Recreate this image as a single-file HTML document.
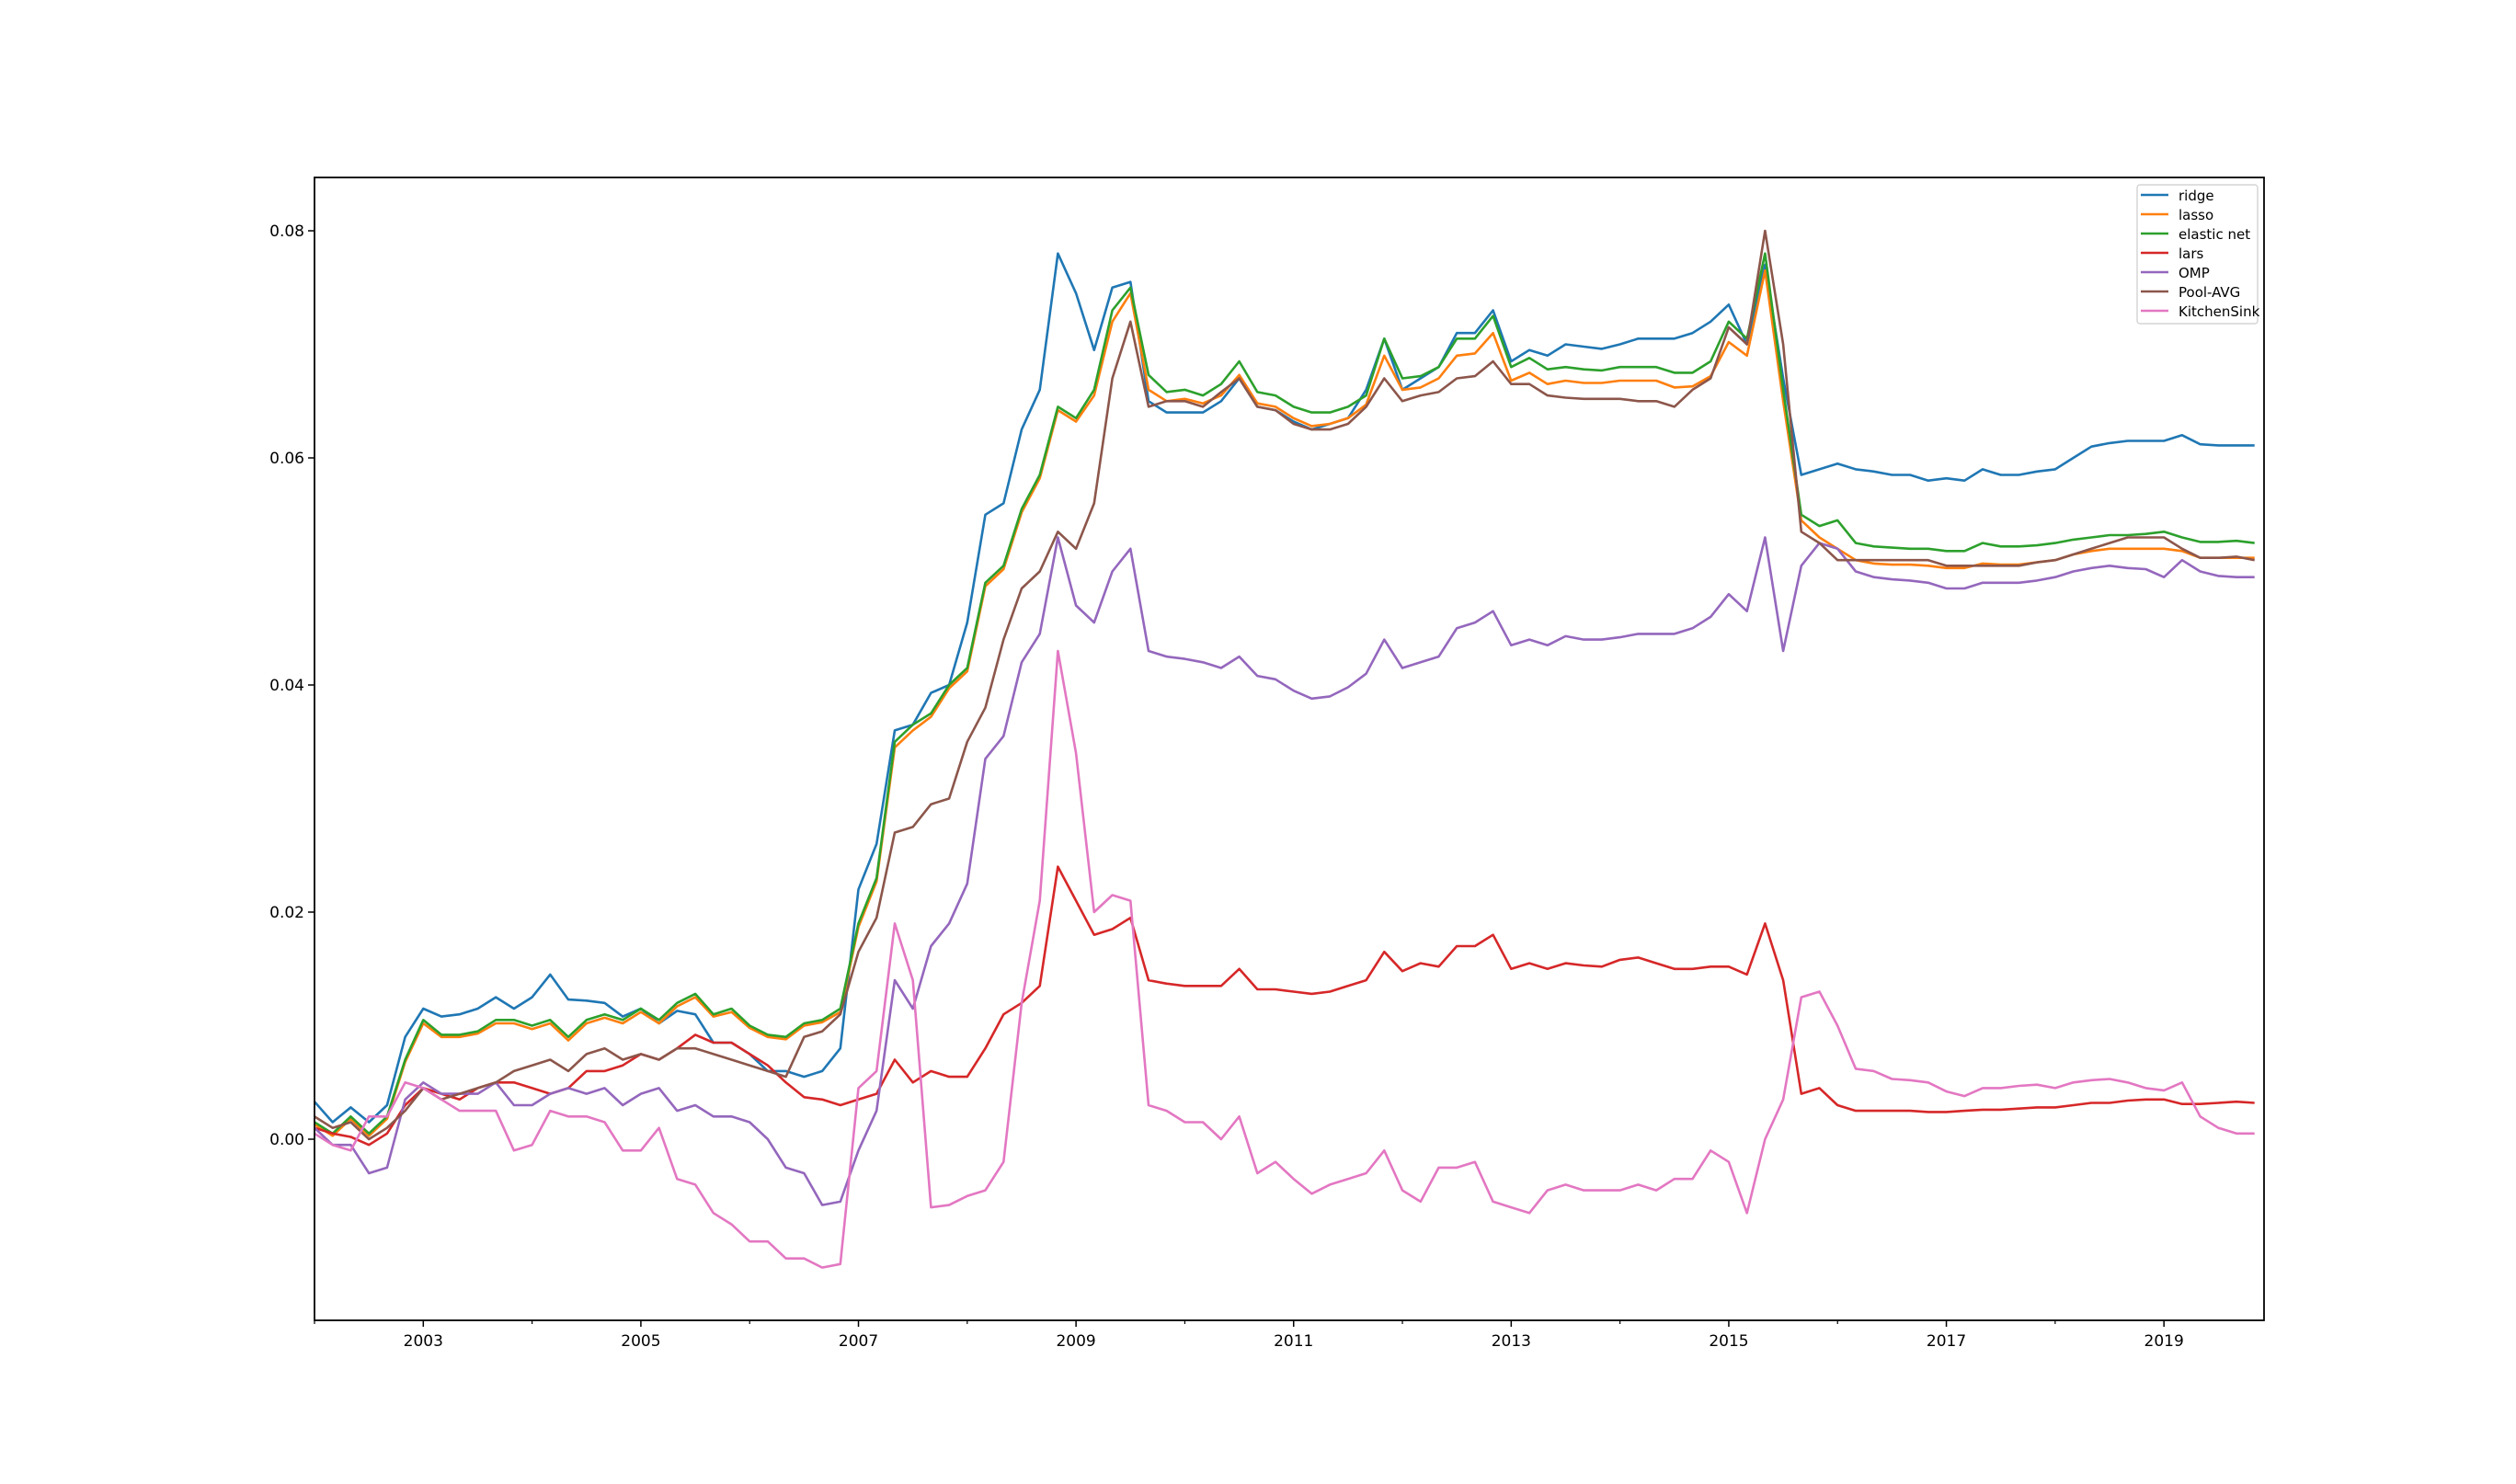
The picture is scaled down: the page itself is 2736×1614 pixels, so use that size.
<!DOCTYPE html>
<html><head><meta charset="utf-8"><style>
html,body{margin:0;padding:0;background:#fff;}
svg{display:block;font-family:"DejaVu Sans","Liberation Sans",sans-serif;}
</style></head><body>
<svg id="chart" width="2736" height="1614" viewBox="0 0 2736 1614" xmlns="http://www.w3.org/2000/svg">
<rect width="2736" height="1614" fill="#fff"/>
<g id="plot"></g>
</svg>
<script>
const startYear = 2002.0;
const stepYears = 1/6;
const seriesNames = ["ridge","lasso","elastic net","lars","OMP","Pool-AVG","KitchenSink"];
const seriesColors = ["#1f77b4","#ff7f0e","#2ca02c","#d62728","#9467bd","#8c564b","#e377c2"];
const yTickValues = [0.00,0.02,0.04,0.06,0.08];
const yTickLabels = ["0.00","0.02","0.04","0.06","0.08"];
const xMajorTicks = [2003,2005,2007,2009,2011,2013,2015,2017,2019];
const xMinorTicks = [2002,2004,2006,2008,2010,2012,2014,2016,2018];
// values in units of 0.001, bimonthly from 2002.0
const ridge = [3.3,1.5,2.8,1.5,3,9,11.5,10.8,11,11.5,12.5,11.5,12.5,14.5,12.3,12.2,12,10.8,11.5,10.2,11.3,11,8.5,8.5,7.5,6,6,5.5,6,8,22,26,36,36.5,39.3,40,45.5,55,56,62.5,66,78,74.5,69.5,75,75.5,65,64,64,64,65,67,64.5,64.2,63.2,62.5,63,63.5,66,70.5,66,67,68,71,71,73,68.5,69.5,69,70,69.8,69.6,70,70.5,70.5,70.5,71,72,73.5,70,77,67,58.5,59,59.5,59,58.8,58.5,58.5,58,58.2,58,59,58.5,58.5,58.8,59,60,61,61.3,61.5,61.5,61.5,62,61.2,61.1,61.1,61.1];
const lasso = [1.3,0.3,1.8,0.3,1.8,6.8,10.2,9,9,9.3,10.2,10.2,9.7,10.2,8.7,10.2,10.7,10.2,11.2,10.2,11.7,12.5,10.8,11.2,9.8,9,8.8,10,10.3,11.2,18.7,22.7,34.5,36,37.2,39.7,41.2,48.7,50.2,55.2,58.2,64.2,63.2,65.5,72,74.5,66,65,65.2,64.8,65.5,67.3,64.8,64.5,63.5,62.8,63,63.5,64.7,69,66,66.2,67,69,69.2,71,66.8,67.5,66.5,66.8,66.6,66.6,66.8,66.8,66.8,66.2,66.3,67.2,70.2,69,76.5,65,54.5,53,52,51,50.7,50.6,50.6,50.5,50.3,50.3,50.7,50.6,50.6,50.8,51,51.5,51.8,52,52,52,52,51.8,51.2,51.2,51.2,51.2];
const elasticNet = [1.5,0.5,2,0.5,2,7,10.5,9.2,9.2,9.5,10.5,10.5,10,10.5,9,10.5,11,10.5,11.5,10.5,12,12.8,11,11.5,10,9.2,9,10.2,10.5,11.5,19,23,35,36.5,37.5,40,41.5,49,50.5,55.5,58.5,64.5,63.5,66,73,75,67.3,65.8,66,65.5,66.5,68.5,65.8,65.5,64.5,64,64,64.5,65.5,70.5,67,67.2,68,70.5,70.5,72.5,68,68.8,67.8,68,67.8,67.7,68,68,68,67.5,67.5,68.5,72,70.5,78,66,55,54,54.5,52.5,52.2,52.1,52,52,51.8,51.8,52.5,52.2,52.2,52.3,52.5,52.8,53,53.2,53.2,53.3,53.5,53,52.6,52.6,52.7,52.5];
const lars = [1,0.5,0.2,-0.5,0.5,3,4.5,4,3.5,4.5,5,5,4.5,4,4.5,6,6,6.5,7.5,7,8,9.2,8.5,8.5,7.5,6.5,5,3.7,3.5,3,3.5,4,7,5,6,5.5,5.5,8,11,12,13.5,24,21,18,18.5,19.5,14,13.7,13.5,13.5,13.5,15,13.2,13.2,13,12.8,13,13.5,14,16.5,14.8,15.5,15.2,17,17,18,15,15.5,15,15.5,15.3,15.2,15.8,16,15.5,15,15,15.2,15.2,14.5,19,14,4,4.5,3,2.5,2.5,2.5,2.5,2.4,2.4,2.5,2.6,2.6,2.7,2.8,2.8,3,3.2,3.2,3.4,3.5,3.5,3.1,3.1,3.2,3.3,3.2];
const omp = [1,-0.5,-0.5,-3,-2.5,3.5,5,4,4,4,5,3,3,4,4.5,4,4.5,3,4,4.5,2.5,3,2,2,1.5,0,-2.5,-3,-5.8,-5.5,-1,2.5,14,11.5,17,19,22.5,33.5,35.5,42,44.5,53,47,45.5,50,52,43,42.5,42.3,42,41.5,42.5,40.8,40.5,39.5,38.8,39,39.8,41,44,41.5,42,42.5,45,45.5,46.5,43.5,44,43.5,44.3,44,44,44.2,44.5,44.5,44.5,45,46,48,46.5,53,43,50.5,52.5,52,50,49.5,49.3,49.2,49,48.5,48.5,49,49,49,49.2,49.5,50,50.3,50.5,50.3,50.2,49.5,51,50,49.6,49.5,49.5];
const poolAvg = [2,1,1.5,0,1,2.5,4.5,3.5,4,4.5,5,6,6.5,7,6,7.5,8,7,7.5,7,8,8,7.5,7,6.5,6,5.5,9,9.5,11,16.5,19.5,27,27.5,29.5,30,35,38,44,48.5,50,53.5,52,56,67,72,64.5,65,65,64.5,65.8,67,64.5,64.2,63,62.5,62.5,63,64.5,67,65,65.5,65.8,67,67.2,68.5,66.5,66.5,65.5,65.3,65.2,65.2,65.2,65,65,64.5,66,67,71.5,70,80,70,53.5,52.5,51,51,51,51,51,51,50.5,50.5,50.5,50.5,50.5,50.8,51,51.5,52,52.5,53,53,53,52,51.2,51.2,51.3,51];
const kitchenSink = [0.5,-0.5,-1,2,2,5,4.5,3.5,2.5,2.5,2.5,-1,-0.5,2.5,2,2,1.5,-1,-1,1,-3.5,-4,-6.5,-7.5,-9,-9,-10.5,-10.5,-11.3,-11,4.5,6,19,14,-6,-5.8,-5,-4.5,-2,12,21,43,34,20,21.5,21,3,2.5,1.5,1.5,0,2,-3,-2,-3.5,-4.8,-4,-3.5,-3,-1,-4.5,-5.5,-2.5,-2.5,-2,-5.5,-6,-6.5,-4.5,-4,-4.5,-4.5,-4.5,-4,-4.5,-3.5,-3.5,-1,-2,-6.5,0,3.5,12.5,13,10,6.2,6,5.3,5.2,5,4.2,3.8,4.5,4.5,4.7,4.8,4.5,5,5.2,5.3,5,4.5,4.3,5,2,1,0.5,0.5];
const allSeries = [ridge,lasso,elasticNet,lars,omp,poolAvg,kitchenSink];

const L=342,R=2462,T=193,B=1436;
const X0=2002.0,X1=2019.92;
const Y0=-0.016,Y1=0.0847;
function xs(yr){return L+(yr-X0)/(X1-X0)*(R-L);}
function ys(v){return 1239-(v/0.08)*988;}
const NS="http://www.w3.org/2000/svg";
const g=document.getElementById('plot');
function mk(tag,attrs){const e=document.createElementNS(NS,tag);for(const k in attrs)e.setAttribute(k,attrs[k]);return e;}

// series
const clip=mk('clipPath',{id:'cp'});clip.appendChild(mk('rect',{x:L,y:T,width:R-L,height:B-T}));g.appendChild(clip);
const lg=mk('g',{'clip-path':'url(#cp)'});g.appendChild(lg);
allSeries.forEach((arr,i)=>{
  const pts=arr.map((v,k)=>xs(startYear+k*stepYears).toFixed(1)+','+ys(v/1000).toFixed(1)).join(' ');
  const pl=mk('polyline',{points:pts,fill:'none',stroke:seriesColors[i],'stroke-width':2.6,'stroke-linejoin':'round'});
  
  
  lg.appendChild(pl);
});

// axes frame
const fr=mk('rect',{x:L,y:T,width:R-L,height:B-T,fill:'none',stroke:'#000','stroke-width':1.8});


g.appendChild(fr);

yTickValues.forEach((v,i)=>{
  const y=ys(v);
  g.appendChild(mk('line',{x1:L-7,x2:L,y1:y,y2:y,stroke:'#000','stroke-width':1.5}));
  const t=mk('text',{x:L-11,y:y+6,'text-anchor':'end','font-size':17,fill:'#000'});
  t.textContent=yTickLabels[i];
  
  
  g.appendChild(t);
});
xMajorTicks.forEach(yr=>{
  const x=xs(yr);
  g.appendChild(mk('line',{x1:x,x2:x,y1:B,y2:B+7,stroke:'#000','stroke-width':1.5}));
  const t=mk('text',{x:x,y:B+28,'text-anchor':'middle','font-size':17,fill:'#000'});
  t.textContent=String(yr);
  
  
  g.appendChild(t);
});
xMinorTicks.forEach(yr=>{
  const x=xs(yr);
  g.appendChild(mk('line',{x1:x,x2:x,y1:B,y2:B+4,stroke:'#000','stroke-width':1.2}));
});

// legend
const leg=mk('g',{});


g.appendChild(leg);
leg.appendChild(mk('rect',{x:2324,y:201,width:131,height:151,rx:3,fill:'#fff','fill-opacity':0.8,stroke:'#ccc','stroke-width':1.2}));
seriesNames.forEach((n,i)=>{
  const y=212+i*21;
  const e=mk('g',{});
  
  
  e.appendChild(mk('line',{x1:2328,x2:2358,y1:y,y2:y,stroke:seriesColors[i],'stroke-width':2.6}));
  const t=mk('text',{x:2369,y:y+6,'font-size':15,fill:'#000'});
  t.textContent=n;
  e.appendChild(t);
  leg.appendChild(e);
});
</script>
</body></html>
